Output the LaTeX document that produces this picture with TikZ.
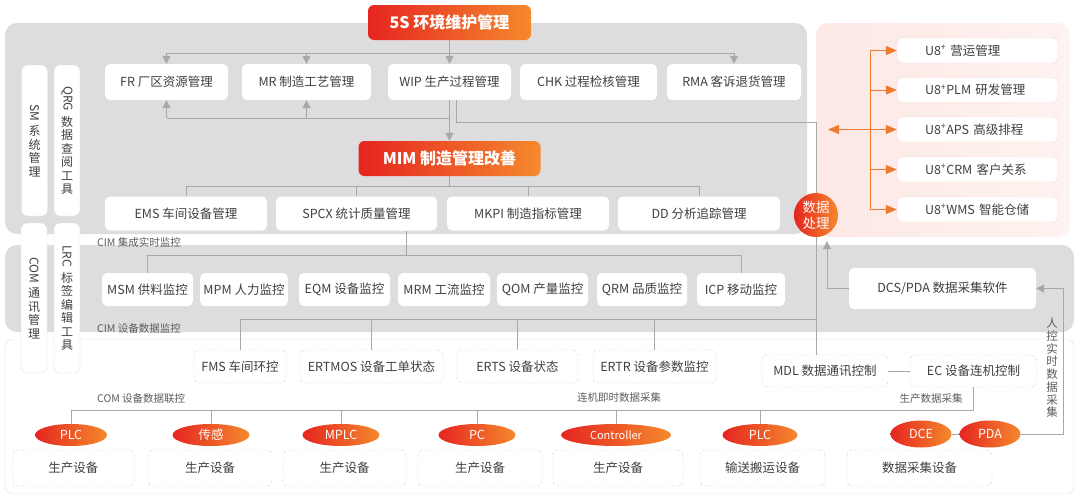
\documentclass[tikz,border=0pt]{standalone}
\usepackage{fontspec}
\setmainfont{Noto Sans CJK SC}
\usetikzlibrary{arrows.meta,shapes.geometric,positioning}
\definecolor{panelgray}{HTML}{DDDDDF}
\definecolor{pinkl}{HTML}{FCE8E4}
\definecolor{pinkr}{HTML}{FDF3F0}
\definecolor{pinkline}{HTML}{F6D6CF}
\definecolor{linegray}{HTML}{A8A8A8}
\definecolor{txtgray}{HTML}{404040}
\definecolor{hotred}{HTML}{E52520}
\definecolor{hotorange}{HTML}{F5892D}
\definecolor{arroworange}{HTML}{EE7A30}
\begin{document}
\begin{tikzpicture}[x=1pt,y=-1pt,
  mbox/.style={rectangle,rounded corners=5pt,fill=white,text=txtgray,inner sep=0pt,font=\fontsize{12.5}{14}\selectfont},
  dbox/.style={mbox,draw=gray!35,densely dashed},
  ubox/.style={mbox,draw=pinkline,minimum width=161pt,minimum height=25pt,text width=105pt,align=left},
  side/.style={rectangle,rounded corners=6pt,fill=white,draw=gray!25,minimum width=26pt,minimum height=151pt,inner sep=0pt,text=txtgray,align=center,font=\fontsize{12}{13.5}\selectfont},
  hot/.style={rectangle,rounded corners=6pt,left color=hotred,right color=hotorange,text=white,inner sep=0pt,font=\fontsize{16}{18}\selectfont\bfseries},
  chip/.style={ellipse,left color=hotred,right color=hotorange,text=white,inner sep=0pt,minimum height=22pt,font=\fontsize{12.5}{14}\selectfont},
  tag/.style={text=txtgray!85,inner sep=0pt,font=\fontsize{10.5}{12}\selectfont},
  wire/.style={draw=linegray,line width=1pt},
  garrow/.style={wire,-{Triangle[width=8pt,length=8pt]}},
  oarrow/.style={draw=arroworange,line width=1pt,-{Triangle[width=9pt,length=11pt]}},
  obiarrow/.style={draw=arroworange,line width=1pt,{Triangle[width=9pt,length=11pt]}-{Triangle[width=9pt,length=11pt]}}
]
\useasboundingbox (0,0) rectangle (1080,501);
\fill[panelgray,rounded corners=12pt] (5,23) rectangle (807,234);
\shade[left color=pinkl,right color=pinkr,rounded corners=12pt] (816,23) rectangle (1070,237);
\fill[panelgray,rounded corners=12pt] (5,245) rectangle (1074,332);
\draw[pinkline,fill=white,rounded corners=8pt] (5,339) rectangle (1074,494);

\node[side] (sm) at (34.5,140.5) {\rotatebox{-90}{SM}\\[4pt]系\\统\\管\\理};
\node[side] (qrg) at (67,140.5) {\rotatebox{-90}{QRG}\\[4pt]数\\据\\查\\阅\\工\\具};
\node[side,minimum height=150pt] (com) at (34,298) {\rotatebox{-90}{COM}\\[4pt]通\\讯\\管\\理};
\node[side,minimum height=150pt] (lrc) at (67,298) {\rotatebox{-90}{LRC}\\[4pt]标\\签\\编\\辑\\工\\具};

\node[hot,minimum width=163pt,minimum height=35pt] (t5s) at (449.5,22.5) {5S 环境维护管理};
\node[mbox,minimum width=123pt,minimum height=36pt] (fr) at (166.5,82) {FR 厂区资源管理};
\node[mbox,minimum width=129pt,minimum height=36pt] (mr) at (306.5,82) {MR 制造工艺管理};
\node[mbox,minimum width=123pt,minimum height=36pt] (wip) at (449.5,82) {WIP 生产过程管理};
\node[mbox,minimum width=137pt,minimum height=36pt] (chk) at (588.5,82) {CHK 过程检核管理};
\node[mbox,minimum width=134pt,minimum height=36pt] (rma) at (734,82) {RMA 客诉退货管理};
\node[hot,minimum width=182pt,minimum height=35pt] (mim) at (449.5,158.5) {MIM 制造管理改善};
\node[mbox,minimum width=162pt,minimum height=34pt] (ems) at (186,213.5) {EMS 车间设备管理};
\node[mbox,minimum width=161pt,minimum height=34pt] (spcx) at (356.5,213.5) {SPCX 统计质量管理};
\node[mbox,minimum width=162pt,minimum height=34pt] (mkpi) at (528,213.5) {MKPI 制造指标管理};
\node[mbox,minimum width=162pt,minimum height=34pt] (dd) at (699,213.5) {DD 分析追踪管理};

\node[ubox] (u8a) at (977.5,50.5) {U8\textsuperscript{+} 营运管理};
\node[ubox] (u8b) at (977.5,90) {U8\textsuperscript{+}PLM 研发管理};
\node[ubox] (u8c) at (977.5,129.5) {U8\textsuperscript{+}APS 高级排程};
\node[ubox] (u8d) at (977.5,169.5) {U8\textsuperscript{+}CRM 客户关系};
\node[ubox] (u8e) at (977.5,209.5) {U8\textsuperscript{+}WMS 智能仓储};
\node[circle,left color=hotred,right color=hotorange,text=white,minimum size=44pt,inner sep=0pt,align=center,font=\fontsize{13.5}{16}\selectfont] (proc) at (816,215) {数据\\处理};

\node[tag,anchor=west] (cim1) at (97,243) {CIM 集成实时监控};
\node[mbox,minimum width=91pt,minimum height=33pt] (msm) at (147.5,289.5) {MSM 供料监控};
\node[mbox,minimum width=88pt,minimum height=33pt] (mpm) at (244,289.5) {MPM 人力监控};
\node[mbox,minimum width=91pt,minimum height=33pt] (eqm) at (344.5,289.5) {EQM 设备监控};
\node[mbox,minimum width=92pt,minimum height=33pt] (mrm) at (444,289.5) {MRM 工流监控};
\node[mbox,minimum width=91pt,minimum height=33pt] (qom) at (542.5,289.5) {QOM 产量监控};
\node[mbox,minimum width=90pt,minimum height=33pt] (qrm) at (642,289.5) {QRM 品质监控};
\node[mbox,minimum width=88pt,minimum height=33pt] (icp) at (741,289.5) {ICP 移动监控};
\node[mbox,minimum width=187pt,minimum height=41pt] (dcs) at (942.5,288.5) {DCS/PDA 数据采集软件};
\node[tag,anchor=west] (cim2) at (97,329) {CIM 设备数据监控};

\node[dbox,minimum width=92pt,minimum height=33pt] (fms) at (240,366.5) {FMS 车间环控};
\node[dbox,minimum width=143pt,minimum height=33pt] (ertmos) at (371.5,366.5) {ERTMOS 设备工单状态};
\node[dbox,minimum width=121pt,minimum height=33pt] (erts) at (517.5,366.5) {ERTS 设备状态};
\node[dbox,minimum width=123pt,minimum height=33pt] (ertr) at (654.5,366.5) {ERTR 设备参数监控};
\node[dbox,minimum width=126pt,minimum height=32pt] (mdl) at (825,371) {MDL 数据通讯控制};
\node[dbox,minimum width=127pt,minimum height=32pt] (ec) at (973.5,371) {EC 设备连机控制};

\node[tag,anchor=west] (com1) at (97,399) {COM 设备数据联控};
\node[tag] (live) at (619,398) {连机即时数据采集};
\node[tag] (prod) at (931,399) {生产数据采集};
\node[tag,align=center,font=\fontsize{11.5}{12.75}\selectfont] (manual) at (1052,368) {人\\控\\实\\时\\数\\据\\采\\集};

\node[dbox,minimum width=121pt,minimum height=36pt] (eq1) at (73.5,468) {生产设备};
\node[dbox,minimum width=124pt,minimum height=36pt] (eq2) at (210,468) {生产设备};
\node[dbox,minimum width=123pt,minimum height=36pt] (eq3) at (344.5,468) {生产设备};
\node[dbox,minimum width=124pt,minimum height=36pt] (eq4) at (480,468) {生产设备};
\node[dbox,minimum width=130pt,minimum height=36pt] (eq5) at (618,468) {生产设备};
\node[dbox,minimum width=125pt,minimum height=36pt] (eq6) at (762.5,468) {输送搬运设备};
\node[dbox,minimum width=145pt,minimum height=36pt] (eq7) at (919.5,468) {数据采集设备};
\node[chip,minimum width=72pt] (plca) at (71,435) {PLC};
\node[chip,minimum width=77pt] (sens) at (211,435) {传感};
\node[chip,minimum width=77pt] (mplc) at (341,435) {MPLC};
\node[chip,minimum width=77pt] (pc) at (477,435) {PC};
\node[chip,minimum width=110pt,font=\fontsize{11}{13}\selectfont] (ctrl) at (616,435) {Controller};
\node[chip,minimum width=75pt] (plcb) at (760,435) {PLC};
\node[chip,minimum width=61pt,minimum height=27pt] (dce) at (921,434) {DCE};
\node[chip,minimum width=61pt,minimum height=27pt] (pda) at (990,434) {PDA};

\coordinate (bus1) at (0,53);
\coordinate (bus2) at (0,118);
\coordinate (bus3) at (0,122);
\coordinate (bus4) at (0,186);
\coordinate (bus5) at (0,255);
\coordinate (bus6) at (0,319);
\coordinate (bus7) at (0,410);
\coordinate (rail) at (1063,0);
\coordinate (ospine) at (870,0);
\coordinate (oleft) at (828,129.5);

\draw[garrow] (t5s.south) -- (wip.north);
\draw[wire] (fr.north |- bus1) -- (rma.north |- bus1);
\foreach \n in {fr,mr,rma} \draw[garrow] (\n.north |- bus1) -- (\n.north);
\draw[garrow] (wip.south) -- (mim.north);
\draw[wire] (fr.south |- bus2) -- (wip.south |- bus2);
\foreach \n in {fr,mr} \draw[garrow] (\n.south |- bus2) -- (\n.south);
\draw[wire] ([xshift=7pt]wip.south) |- (proc.north |- bus3) -- (proc.north);

\draw[wire] (mim.south) -- (mim.south |- bus4);
\draw[wire] (ems.north |- bus4) -- (dd.north |- bus4);
\foreach \n in {ems,spcx,mkpi,dd} \draw[wire] (\n.north |- bus4) -- (\n.north);
\draw[wire] ([xshift=50pt]spcx.south) -- ([xshift=50pt]spcx.south |- bus5);
\draw[wire] (msm.north |- bus5) -- (icp.north |- bus5);
\foreach \n in {msm,icp} \draw[wire] (\n.north |- bus5) -- (\n.north);

\draw[wire] (fms.north |- bus6) -- (proc.south |- bus6);
\foreach \n in {fms,ertmos,erts,ertr} \draw[wire] (\n.north |- bus6) -- (\n.north);
\draw[wire] (proc.south) -- (proc.south |- mdl.north);
\draw[wire] (mdl) -- (ec);
\draw[wire] (ec.south) |- (plca.north |- bus7);
\foreach \n in {plca,sens,mplc,pc,ctrl,plcb} \draw[wire] (\n.north |- bus7) -- (\n.north);
\draw[wire] (dce) -- (pda);
\draw[garrow] (pda.east) -| (rail |- dcs.east) -- (dcs.east);
\draw[garrow] (dcs.west) -| ([xshift=11pt,yshift=-4pt]proc.south);

\draw[arroworange,line width=1pt] (ospine |- u8a) -- (ospine |- u8e);
\foreach \n in {u8a,u8b,u8d,u8e} \draw[oarrow] (ospine |- \n) -- (\n.west);
\draw[obiarrow] (oleft) -- (u8c.west);
\end{tikzpicture}
\end{document}
